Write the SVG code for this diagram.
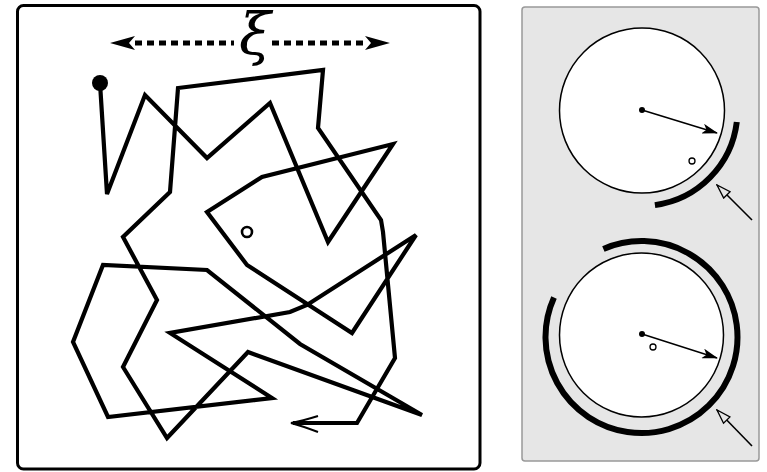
<svg xmlns="http://www.w3.org/2000/svg" width="767" height="472" viewBox="0 0 767 472">
  <defs>
    <style>
      .walk { fill: none; stroke: #000; stroke-width: 4.2; stroke-linejoin: miter; }
      .dash { fill: none; stroke: #000; stroke-width: 5; stroke-dasharray: 7 5; }
      .disk { fill: #fff; stroke: #000; stroke-width: 1.5; }
      .band { fill: none; stroke: #000; stroke-width: 6; stroke-linecap: butt; }
      .ray { stroke: #000; stroke-width: 1.6; }
      .ptr { stroke: #000; stroke-width: 1.6; }
      .small { fill: #fff; stroke: #000; stroke-width: 1.3; }
    </style>
    <marker id="barb" viewBox="0 0 16 10" refX="15" refY="5" markerWidth="16" markerHeight="10" markerUnits="userSpaceOnUse" orient="auto">
      <path d="M0,0 L16,5 L0,10 L4,5 Z" fill="#000"/>
    </marker>
    <marker id="open" viewBox="0 0 16 11" refX="15" refY="5.5" markerWidth="16" markerHeight="11" markerUnits="userSpaceOnUse" orient="auto">
      <path d="M1,1 L15,5.5 L1,10 Z" fill="#e6e6e6" stroke="#000" stroke-width="1.3"/>
    </marker>
  </defs>

  <g id="walk-panel">
    <rect x="17.5" y="5.5" width="462.5" height="463.5" rx="6" fill="#fff" stroke="#000" stroke-width="3"/>
    <g id="xi-scale">
      <line class="dash" x1="135" y1="43" x2="234" y2="43"/>
      <path d="M110,43 L135,36 L129,43 L135,50 Z" fill="#000"/>
      <line class="dash" x1="272" y1="43" x2="368" y2="43"/>
      <path d="M390,43 L365,36 L371,43 L365,50 Z" fill="#000"/>
      <text x="255" y="54" font-family="DejaVu Serif, serif" font-style="italic" font-size="58" text-anchor="middle">ξ</text>
    </g>
    <g id="walk-path">
      <circle cx="100" cy="83" r="8" fill="#000"/>
      <polyline class="walk" points="100,83 107,194 145,95 207,158 270,103 328,242 393,144 262,177 207,212 247,265 352,333 416,235 307,305 290,312 170,333 272,398 108,417 73,342 103,265 207,270 300,344 422,415 248,352 167,438 123,367 157,300 123,237 170,192 178,88 323,70 318,128 381,220 383,232 395,358 357,423 293,423"/>
      <path d="M318,416 Q302,421 291,423 Q302,426 318,432" fill="none" stroke="#000" stroke-width="2"/>
      <circle cx="247" cy="232" r="5" fill="none" stroke="#000" stroke-width="2.6"/>
    </g>
  </g>

  <g id="circles-panel">
    <rect x="522" y="7" width="237" height="454" rx="3" fill="#e6e6e6" stroke="#999" stroke-width="1.5"/>
    <g id="upper-circle">
      <circle class="disk" cx="642" cy="110.5" r="82.5"/>
      <path class="band" d="M736.8,122 A95.5,95.5 0 0 1 654.9,205.1"/>
      <circle cx="642" cy="110" r="3" fill="#000"/>
      <line class="ray" x1="642" y1="110" x2="717" y2="133" marker-end="url(#barb)"/>
      <circle class="small" cx="692" cy="161" r="3"/>
      <line class="ptr" x1="752" y1="220" x2="717" y2="185" marker-end="url(#open)"/>
    </g>
    <g id="lower-circle">
      <circle class="disk" cx="641.5" cy="335" r="82"/>
      <path class="band" d="M603.4,248.9 A96,96 0 1 1 554,297.5"/>
      <circle cx="642" cy="334" r="3" fill="#000"/>
      <line class="ray" x1="642" y1="334" x2="717" y2="358" marker-end="url(#barb)"/>
      <circle class="small" cx="653" cy="347" r="3"/>
      <line class="ptr" x1="752" y1="446" x2="717" y2="410" marker-end="url(#open)"/>
    </g>
  </g>
</svg>
